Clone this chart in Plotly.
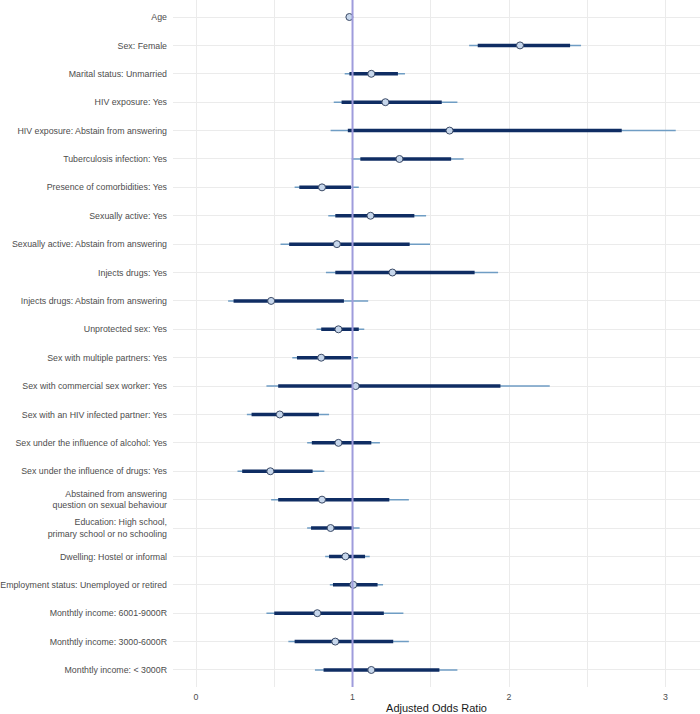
import plotly.graph_objects as go

labels = [
    "Age",
    "Sex: Female",
    "Marital status: Unmarried",
    "HIV exposure: Yes",
    "HIV exposure: Abstain from answering",
    "Tuberculosis infection: Yes",
    "Presence of comorbidities: Yes",
    "Sexually active: Yes",
    "Sexually active: Abstain from answering",
    "Injects drugs: Yes",
    "Injects drugs: Abstain from answering",
    "Unprotected sex: Yes",
    "Sex with multiple partners: Yes",
    "Sex with commercial sex worker: Yes",
    "Sex with an HIV infected partner: Yes",
    "Sex under the influence of alcohol: Yes",
    "Sex under the influence of drugs: Yes",
    "Abstained from answering<br>question on sexual behaviour",
    "Education: High school,<br>primary school or no schooling",
    "Dwelling: Hostel or informal",
    "Employment status: Unemployed or retired",
    "Monthtly income: 6001-9000R",
    "Monthtly income: 3000-6000R",
    "Monthtly income: < 3000R",
]

aor = [0.98, 2.07, 1.12, 1.21, 1.62, 1.30, 0.805, 1.115, 0.90, 1.255, 0.48, 0.91,
       0.80, 1.02, 0.535, 0.91, 0.475, 0.805, 0.86, 0.955, 1.005, 0.775, 0.89, 1.12]
inner_lo = [0.975, 1.80, 0.98, 0.93, 0.97, 1.05, 0.66, 0.89, 0.595, 0.89, 0.24, 0.80,
            0.645, 0.525, 0.355, 0.74, 0.295, 0.525, 0.735, 0.85, 0.875, 0.50, 0.63, 0.815]
inner_hi = [0.985, 2.39, 1.29, 1.57, 2.72, 1.63, 0.99, 1.395, 1.365, 1.78, 0.945, 1.04,
            0.99, 1.945, 0.785, 1.12, 0.745, 1.235, 1.005, 1.08, 1.16, 1.20, 1.26, 1.555]
outer_lo = [0.97, 1.745, 0.95, 0.88, 0.86, 0.995, 0.63, 0.845, 0.54, 0.83, 0.205, 0.77,
            0.615, 0.45, 0.325, 0.71, 0.265, 0.48, 0.71, 0.825, 0.855, 0.45, 0.59, 0.76]
outer_hi = [0.99, 2.46, 1.335, 1.67, 3.065, 1.71, 1.04, 1.47, 1.495, 1.93, 1.10, 1.075,
            1.035, 2.26, 0.85, 1.175, 0.82, 1.36, 1.045, 1.11, 1.195, 1.325, 1.36, 1.67]

x_ticks = [0, 1, 2, 3]


def segs(lo, hi):
    xs, ys = [], []
    for a, b, lab in zip(lo, hi, labels):
        xs += [a, b, None]
        ys += [lab, lab, None]
    return xs, ys


fig = go.Figure()

ox, oy = segs(outer_lo, outer_hi)
fig.add_trace(go.Scatter(x=ox, y=oy, mode="lines",
                         line=dict(color="#6f9dc4", width=1.5),
                         hoverinfo="skip", showlegend=False))
ix, iy = segs(inner_lo, inner_hi)
fig.add_trace(go.Scatter(x=ix, y=iy, mode="lines",
                         line=dict(color="#0f2d63", width=3.5),
                         hoverinfo="skip", showlegend=False))
fig.add_trace(go.Scatter(x=aor, y=labels, mode="markers",
                         marker=dict(size=7, color="#c7d7ec",
                                     line=dict(color="#3b4a66", width=1)),
                         showlegend=False))

fig.add_shape(type="line", xref="x", yref="paper", x0=1, x1=1, y0=0, y1=1,
              line=dict(color="#9f9cdc", width=2), layer="above")

fig.update_layout(
    width=700, height=714,
    margin=dict(l=173, r=0, t=0, b=27),
    paper_bgcolor="white", plot_bgcolor="white",
    font=dict(family="Liberation Sans, Arial, sans-serif", size=8.8, color="#4d4d4d"),
)
fig.update_xaxes(
    range=[-0.147, 3.22], tickvals=x_ticks, ticktext=[str(t) for t in x_ticks],
    showgrid=True, gridcolor="#ebebeb", gridwidth=1,
    minor=dict(dtick=0.5, tick0=0, showgrid=True, gridcolor="#ebebeb", gridwidth=1),
    zeroline=False, showline=False, ticks="", automargin=False,
    title=dict(text="Adjusted Odds Ratio", font=dict(size=11, color="#1a1a1a"), standoff=3),
    tickfont=dict(size=8.8, color="#4d4d4d"), ticklabelstandoff=3,
)
fig.update_yaxes(
    type="category", categoryorder="array", categoryarray=labels,
    range=[len(labels) - 0.4, -0.6],
    showgrid=True, gridcolor="#ebebeb", gridwidth=1,
    zeroline=False, showline=False, ticks="", ticklabelstandoff=5, automargin=False,
    tickfont=dict(size=8.8, color="#4d4d4d"),
)

fig.write_html("out.html", config={"displayModeBar": False},
               post_script="document.body.style.margin='0';document.body.style.overflow='hidden';")
